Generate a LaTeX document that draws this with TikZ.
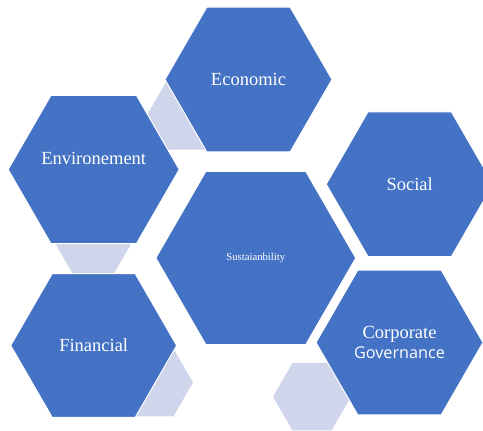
\documentclass[tikz,border=0pt]{standalone}
\usepackage{fontspec}
\setmainfont{Liberation Serif}
\newfontfamily\govfont{Open Sans}
\usetikzlibrary{shapes.geometric}
\definecolor{hexblue}{HTML}{4472C4}
\definecolor{hexpale}{HTML}{CFD5EA}

\begin{document}
\begin{tikzpicture}[x=1pt,y=-1pt,
  hex/.style={regular polygon,regular polygon sides=6,minimum size=167pt,inner sep=0pt,
    fill=hexblue,draw=white,line width=1pt,text=white,align=center,
    font=\fontsize{18.5}{20}\selectfont},
  pale/.style={regular polygon,regular polygon sides=6,minimum size=80pt,inner sep=0pt,fill=hexpale}]
\clip (0,0) rectangle (483,431);
% pale hexagons peek out behind the blue ones
\node[pale] (p1) at (187,115) {};
\node[pale] (p2) at (93.3,240) {};
\node[pale,minimum size=78pt] (p3) at (154,382.5) {};
\node[pale,minimum size=78pt] (p4) at (312,396.7) {};
% the ring of topics
\node[hex] (eco) at (248.5,79.5) {Economic};
\node[hex,minimum size=166pt] (env) at (93.7,169.5) {\raisebox{22pt}{Environement}};
\node[hex,minimum size=166pt] (fin) at (93.7,345.5) {Financial};
\node[hex] (soc) at (409.7,184.2) {Social};
\node[hex] (gov) at (399.5,342.5) {Corporate\\{\govfont\fontsize{16.2}{20}\selectfont Governance}};
\node[hex,minimum size=200pt,font=\fontsize{10.7}{12}\selectfont] (sus) at (255.8,258) {Sustaianbility};
\end{tikzpicture}
\end{document}
